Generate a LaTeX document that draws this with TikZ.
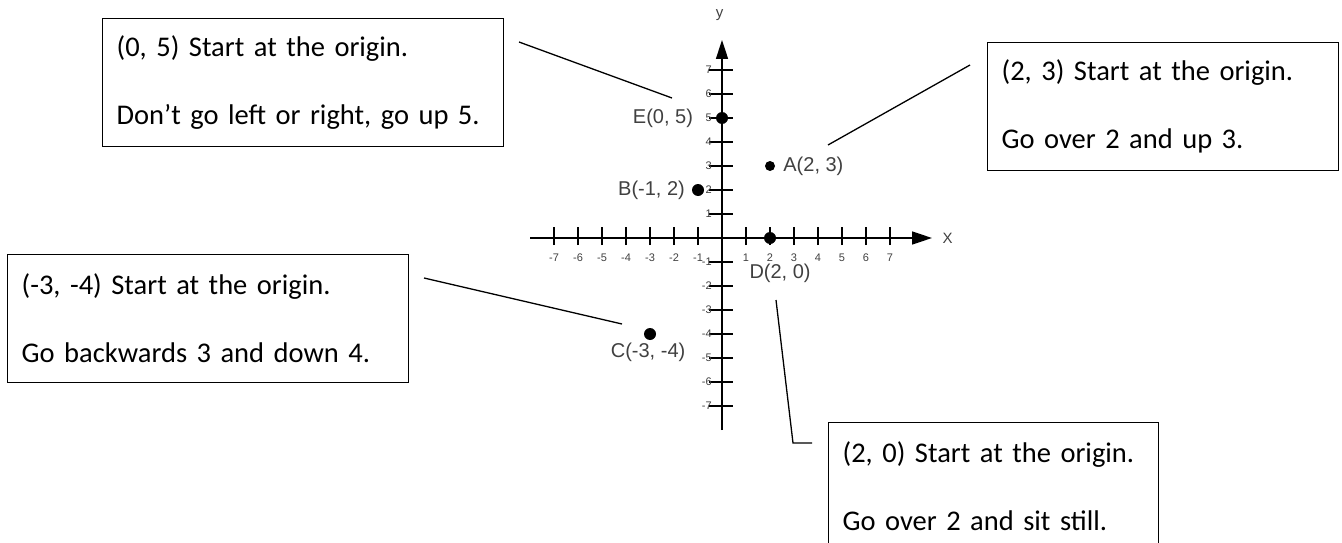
\documentclass[tikz,border=0pt]{standalone}
\usepackage{fontspec}
\setmainfont{Carlito}
\newfontfamily\plotfont{Liberation Sans}
\usetikzlibrary{arrows.meta}

\tikzset{
  txtbox/.style={draw, line width=1.3pt, anchor=north west, align=left, inner xsep=14pt,
    minimum height=128pt, font=\fontsize{28.5}{68}\selectfont},
  ptdot/.style={circle, fill=black, inner sep=0pt, minimum size=12pt},
  ptlabel/.style={text=black!75, font=\plotfont\fontsize{20}{20}\selectfont, inner sep=0pt},
  ticklabel/.style={text=black!75, font=\plotfont\fontsize{11}{11}\selectfont, inner sep=0pt},
  callout/.style={line width=1.3pt},
}

\begin{document}
\begin{tikzpicture}[x=1pt, y=-1pt]
    \useasboundingbox (0,0) rectangle (1342,543);

    % the grid of the plane
    \begin{scope}[shift={(722,238)}, x=24pt, y=24pt]
        \coordinate (xmin) at (-8,0);
        \coordinate (xmax) at (8.75,0);
        \coordinate (ymin) at (0,-8);
        \coordinate (ymax) at (0,8.25);
        \draw[line width=1.6pt, -{Triangle[length=20pt,width=13pt]}] (xmin) -- (xmax);
        \draw[line width=1.6pt, -{Triangle[length=19pt,width=12pt]}] (ymin) -- (ymax);
        \node[ticklabel, font=\plotfont\fontsize{15}{15}\selectfont] (xname) at (9.4,0) {X};
        \node[ticklabel, font=\plotfont\fontsize{15}{15}\selectfont] (yname) at (-0.1,9.3) {y};
        \foreach \k in {-7,...,-1,1,2,...,7} {
            \draw[line width=1.3pt] (\k,-0.3) -- (\k,0.45);
            \draw[line width=1.3pt] (-0.55,\k) -- (0.45,\k);
            \node[ticklabel] at (\k,-0.83) {\k};
            \node[ticklabel, anchor=east] at (-0.42,\k) {\k};
        }

        % the points
        \node[ptdot, minimum size=10pt] (A) at (2,3) {};
        \node[ptdot] (B) at (-1,2) {};
        \node[ptdot] (C) at (-3,-4) {};
        \node[ptdot] (D) at (2,0) {};
        \node[ptdot] (E) at (0,5) {};
        \node[ptlabel, anchor=west] (Alab) at (2.55,3) {A(2, 3)};
        \node[ptlabel, anchor=east] (Blab) at (-1.54,2) {B(-1, 2)};
        \node[ptlabel] (Clab) at (-3.08,-4.75) {C(-3, -4)};
        \node[ptlabel] (Dlab) at (2.42,-1.46) {D(2, 0)};
        \node[ptlabel, anchor=east] (Elab) at (-1.2,5) {E(0, 5)};
    \end{scope}

    % the notes
    \node[txtbox, text width=373pt] (boxE) at (102,18) {(0, 5) Start at the origin.\\Don’t go left or right, go up 5.};
    \node[txtbox, text width=323pt] (boxA) at (987,42) {(2, 3) Start at the origin.\\Go over 2 and up 3.};
    \node[txtbox, text width=373pt] (boxC) at (7,254) {(-3, -4) Start at the origin.\\Go backwards 3 and down 4.};
    \node[txtbox, text width=302pt] (boxD) at (828,422) {(2, 0) Start at the origin.\\Go over 2 and sit still.};

    \coordinate (eTail) at (519,42);
    \coordinate (eHead) at (672,98);
    \coordinate (aTail) at (970,65);
    \coordinate (aHead) at (828,145);
    \coordinate (cTail) at (424,278);
    \coordinate (cHead) at (622,324);
    \coordinate (dTop) at (776,300);
    \coordinate (dBend) at (793,443);
    \coordinate (dTail) at (812,443);
    \draw[callout] (eTail) -- (eHead);
    \draw[callout] (aTail) -- (aHead);
    \draw[callout] (cTail) -- (cHead);
    \draw[callout] (dTop) -- (dBend) -- (dTail);
\end{tikzpicture}
\end{document}
